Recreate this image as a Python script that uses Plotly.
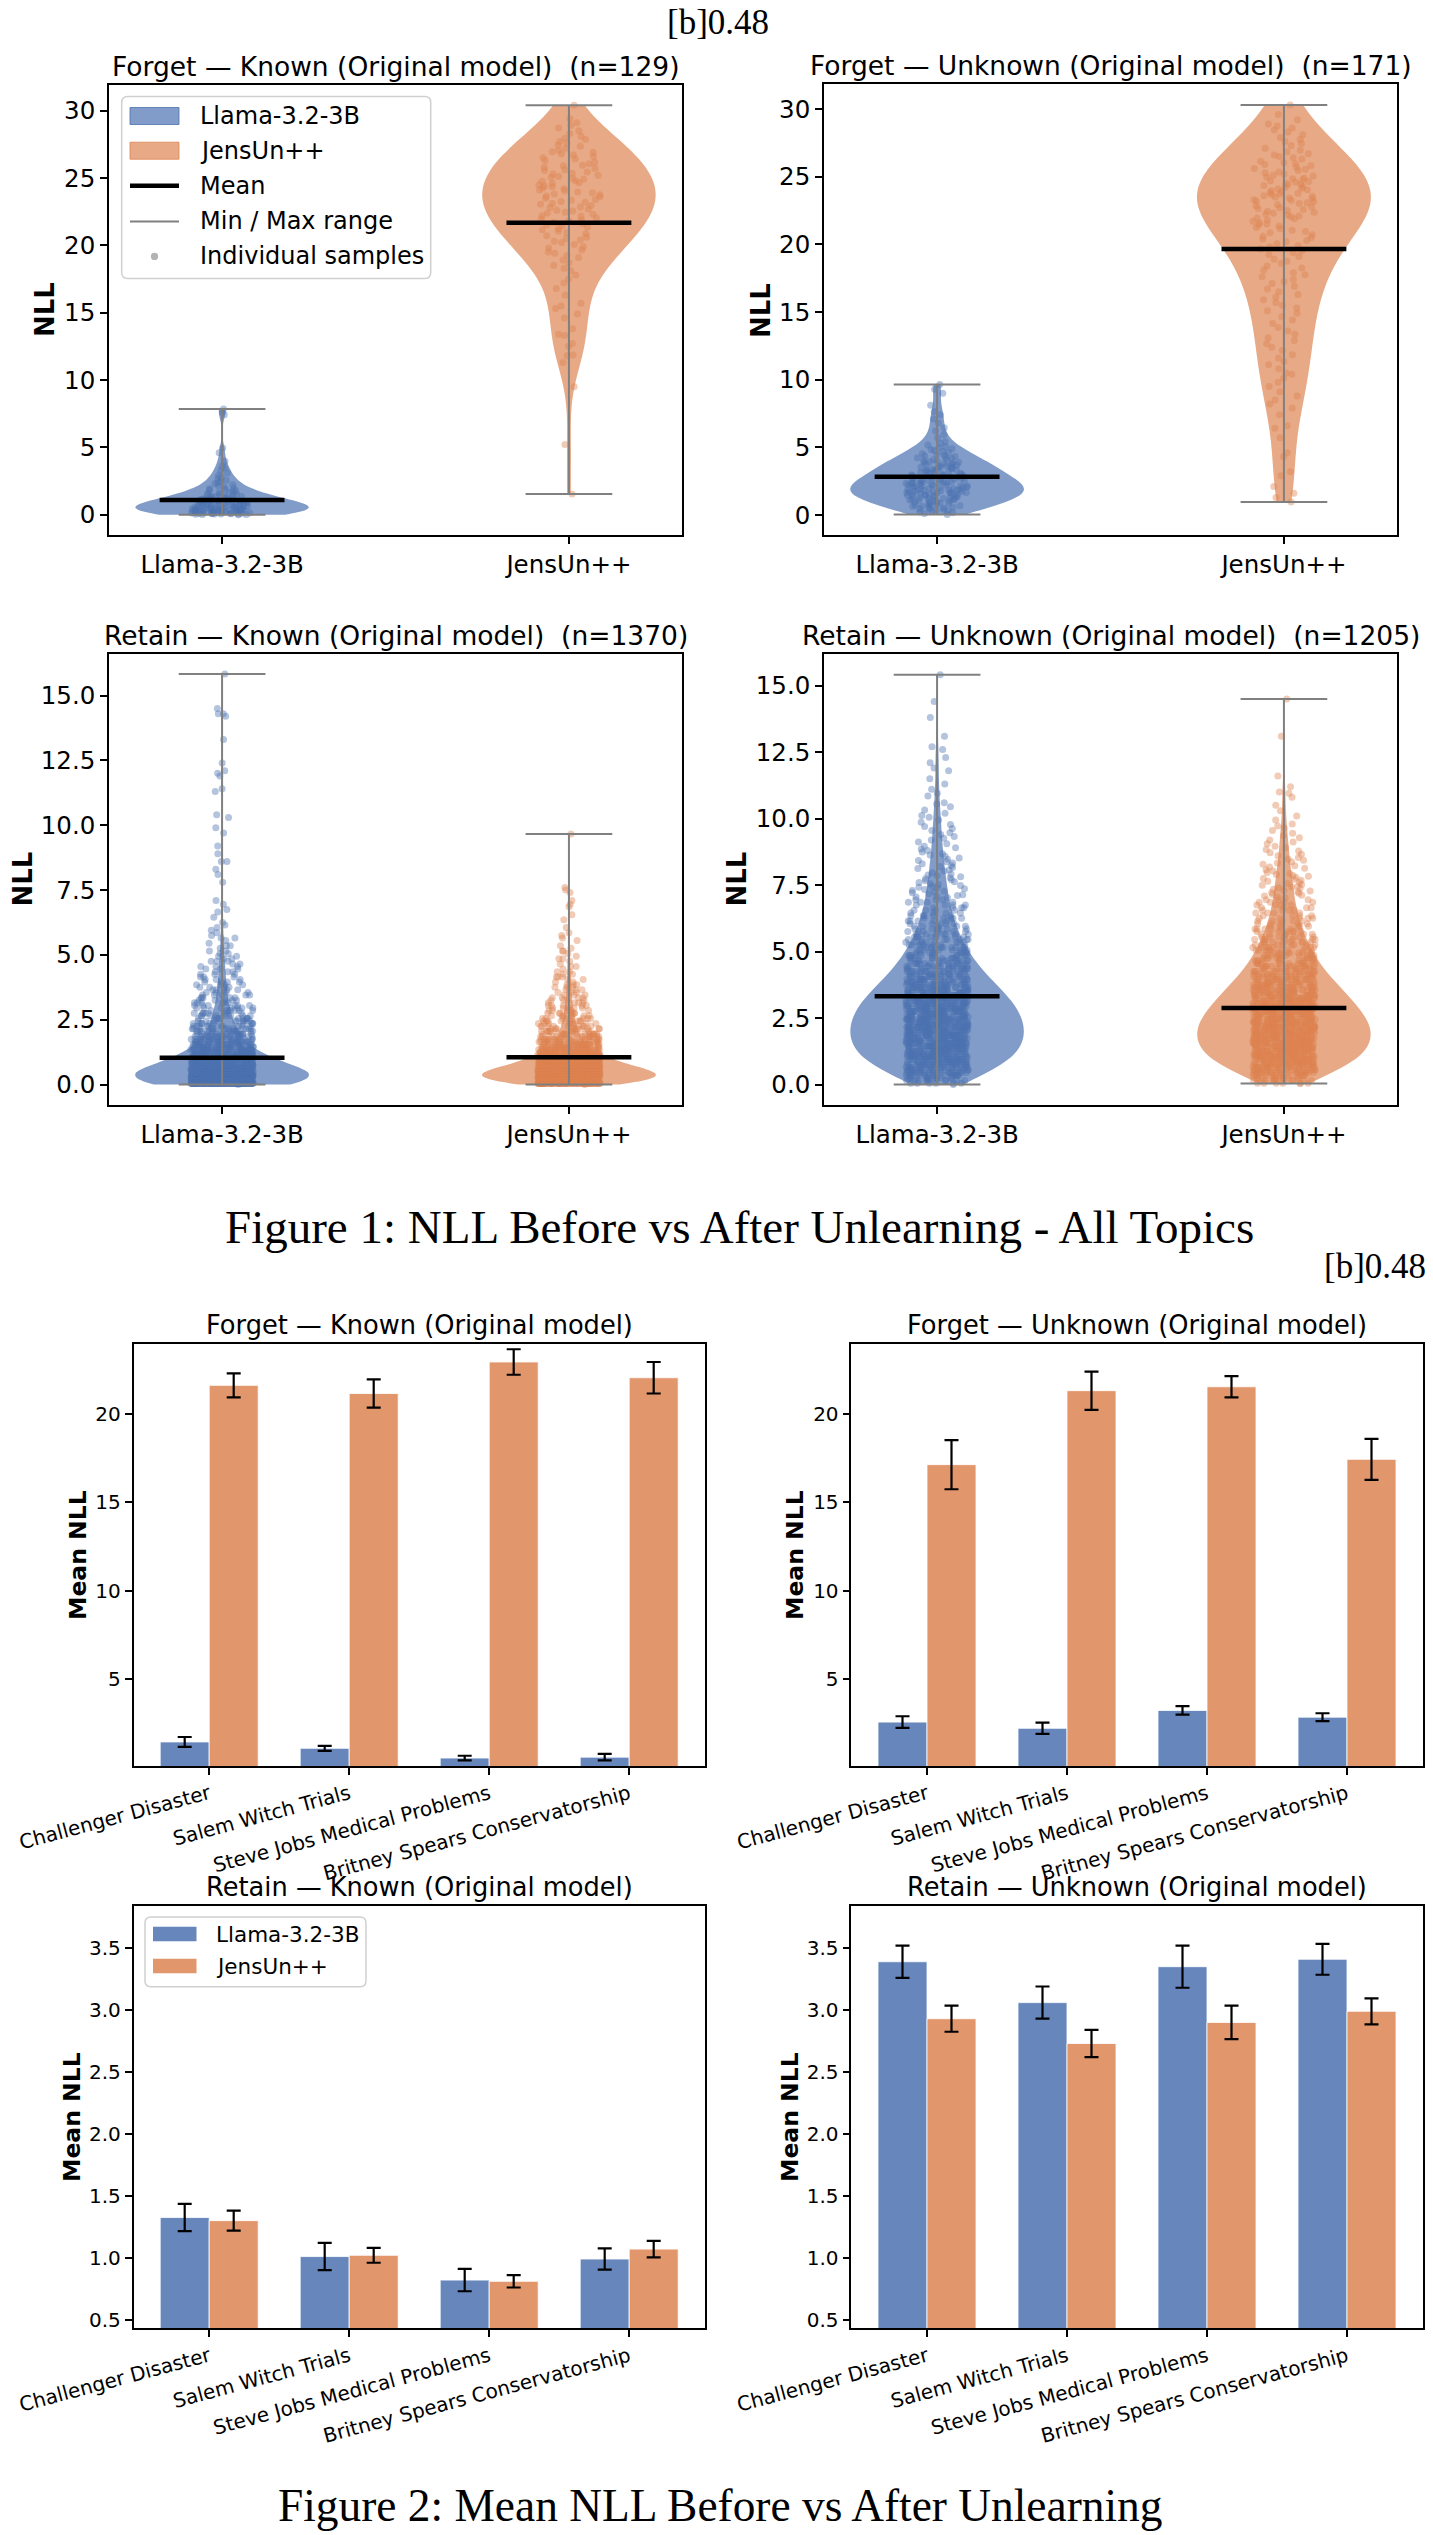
import numpy as np
import plotly.graph_objects as go

W, H = 1433, 2535

MODELS = ["Llama-3.2-3B", "JensUn++"]
VIOLIN_POS = [1, 2]
TOPICS = ["Challenger Disaster", "Salem Witch Trials",
          "Steve Jobs Medical Problems", "Britney Spears Conservatorship"]

VIOLIN_TITLES = ["Forget \u2014 Known (Original model) \u00a0(n=129)",
                 "Forget \u2014 Unknown (Original model) \u00a0(n=171)",
                 "Retain \u2014 Known (Original model) \u00a0(n=1370)",
                 "Retain \u2014 Unknown (Original model) \u00a0(n=1205)"]
BAR_TITLES = ["Forget \u2014 Known (Original model)",
              "Forget \u2014 Unknown (Original model)",
              "Retain \u2014 Known (Original model)",
              "Retain \u2014 Unknown (Original model)"]
VIOLIN_LEGEND = ["Llama-3.2-3B", "JensUn++", "Mean", "Min / Max range", "Individual samples"]

# ---------------- violin samples ----------------
fk_llama = [0.0, 0.01, 0.02, 0.03, 0.04, 0.05, 0.05, 0.06, 0.07, 0.08, 0.09, 0.1, 0.11,
            0.12, 0.12, 0.13, 0.14, 0.15, 0.16, 0.17, 0.18, 0.19, 0.2, 0.22, 0.23, 0.24,
            0.26, 0.27, 0.28, 0.29, 0.3, 0.31, 0.32, 0.33, 0.34, 0.35, 0.36, 0.37, 0.38,
            0.39, 0.4, 0.41, 0.42, 0.44, 0.45, 0.46, 0.48, 0.49,
            0.5, 0.52, 0.53, 0.55, 0.56, 0.58, 0.59, 0.6, 0.62, 0.63, 0.65, 0.66, 0.68,
            0.7, 0.71, 0.73, 0.74,
            0.76, 0.78, 0.8, 0.81, 0.83, 0.85, 0.87, 0.88, 0.9, 0.92, 0.93, 0.95, 0.97, 0.99,
            1.01, 1.03, 1.06, 1.08, 1.1, 1.12, 1.15, 1.17, 1.19, 1.22, 1.24,
            1.26, 1.29, 1.32, 1.35, 1.37, 1.4, 1.43, 1.46, 1.49,
            1.52, 1.58, 1.63, 1.67, 1.72, 1.78, 1.83, 1.88, 1.93, 1.98,
            2.05, 2.13, 2.22, 2.3, 2.38, 2.46, 2.56, 2.68, 2.8, 2.93,
            3.1, 3.3, 3.48, 3.62, 3.97, 4.6, 4.95, 7.42, 7.6, 7.84]
fk_jens = [30.4, 29.4, 29.1, 28.1, 28.3, 28.5, 28.7, 28.9,
           27.05, 27.2, 27.35, 27.45, 27.6, 27.7, 27.85, 27.95,
           26.05, 26.15, 26.3, 26.4, 26.5, 26.6, 26.7, 26.8, 26.9, 26.95,
           25.05, 25.1, 25.2, 25.3, 25.35, 25.45, 25.55, 25.6, 25.7, 25.8, 25.9, 25.95,
           24.05, 24.1, 24.2, 24.25, 24.35, 24.4, 24.5, 24.6, 24.65, 24.75, 24.8, 24.9, 24.95,
           23.05, 23.1, 23.2, 23.25, 23.35, 23.4, 23.5, 23.6, 23.65, 23.75, 23.8, 23.9, 23.95,
           22.05, 22.15, 22.2, 22.3, 22.4, 22.45, 22.55, 22.6, 22.7, 22.8, 22.85, 22.95,
           21.05, 21.15, 21.25, 21.35, 21.45, 21.5, 21.6, 21.7, 21.8, 21.9, 21.95,
           20.05, 20.2, 20.3, 20.4, 20.5, 20.6, 20.7, 20.85, 20.95,
           19.1, 19.25, 19.4, 19.5, 19.65, 19.8, 19.9,
           18.1, 18.3, 18.5, 18.7, 18.9, 17.2, 17.5, 17.8, 16.3, 16.8,
           15.3, 15.5, 15.7, 14.6, 14.9, 13.3, 13.4, 13.8, 12.5, 12.7,
           11.3, 11.8, 11.85, 9.5, 5.2, 1.53]
fu_llama = [0.03, 0.1, 0.16, 0.22, 0.27, 0.31, 0.36, 0.4, 0.44, 0.48,
            0.52, 0.55, 0.58, 0.62, 0.65, 0.68, 0.71, 0.74, 0.78, 0.81, 0.84, 0.87, 0.91, 0.94, 0.98,
            1.01, 1.03, 1.06, 1.08, 1.11, 1.13, 1.16, 1.18, 1.21, 1.23, 1.26, 1.28, 1.31, 1.33,
            1.36, 1.38, 1.41, 1.44, 1.46, 1.49,
            1.51, 1.53, 1.55, 1.57, 1.59, 1.61, 1.63, 1.65, 1.67, 1.69, 1.71, 1.73, 1.75, 1.77,
            1.79, 1.81, 1.83, 1.85, 1.87, 1.89, 1.91, 1.93, 1.95, 1.98,
            2.01, 2.03, 2.06, 2.08, 2.1, 2.12, 2.15, 2.17, 2.19, 2.21, 2.24, 2.26, 2.28, 2.3,
            2.33, 2.35, 2.37, 2.39, 2.42, 2.44, 2.46, 2.49,
            2.52, 2.55, 2.57, 2.6, 2.63, 2.66, 2.68, 2.71, 2.74, 2.77, 2.79, 2.82, 2.85, 2.88,
            2.9, 2.93, 2.96, 2.99,
            3.02, 3.05, 3.09, 3.12, 3.15, 3.19, 3.22, 3.25, 3.29, 3.32, 3.35, 3.39, 3.42, 3.45, 3.48,
            3.52, 3.55, 3.59, 3.62, 3.66, 3.69, 3.73, 3.76, 3.8, 3.83, 3.87, 3.9, 3.94, 3.97,
            4.03, 4.08, 4.13, 4.18, 4.22, 4.27, 4.32, 4.37, 4.42, 4.47,
            4.55, 4.62, 4.7, 4.76, 4.83, 4.9, 4.97, 5.05, 5.18, 5.3, 5.42,
            5.7, 5.95, 6.2, 6.45, 6.8, 7.1, 7.4, 7.65, 8.1, 9.0, 9.3, 9.64]
fu_jens = [30.3, 29.6, 29.2, 28.1, 28.3, 28.45, 28.6, 28.75, 28.9,
           27.1, 27.3, 27.45, 27.6, 27.75, 27.9,
           26.05, 26.15, 26.3, 26.4, 26.5, 26.6, 26.7, 26.85, 26.95,
           25.05, 25.1, 25.2, 25.3, 25.35, 25.45, 25.55, 25.6, 25.7, 25.8, 25.9, 25.95,
           24.03, 24.1, 24.15, 24.2, 24.28, 24.35, 24.4, 24.45, 24.52, 24.6, 24.65, 24.7,
           24.78, 24.85, 24.9, 24.96,
           23.02, 23.08, 23.14, 23.2, 23.25, 23.3, 23.37, 23.43, 23.5, 23.55, 23.6, 23.66,
           23.72, 23.78, 23.84, 23.9, 23.96,
           22.04, 22.1, 22.17, 22.24, 22.3, 22.37, 22.44, 22.5, 22.57, 22.64, 22.7, 22.78,
           22.85, 22.93,
           21.05, 21.15, 21.25, 21.35, 21.45, 21.5, 21.6, 21.7, 21.8, 21.9, 21.95,
           20.05, 20.2, 20.3, 20.4, 20.5, 20.6, 20.7, 20.85, 20.95,
           19.1, 19.25, 19.4, 19.5, 19.65, 19.8, 19.9,
           18.1, 18.25, 18.4, 18.6, 18.75, 18.9, 17.1, 17.25, 17.4, 17.6, 17.75, 17.9,
           16.1, 16.3, 16.5, 16.7, 16.9, 15.1, 15.3, 15.5, 15.7, 15.9,
           14.15, 14.4, 14.65, 14.9, 13.1, 13.35, 13.6, 13.85, 12.15, 12.4, 12.65, 12.9,
           11.1, 11.35, 11.6, 11.85, 10.1, 10.4, 10.5, 10.8, 9.1, 9.5, 9.8, 8.2, 8.5, 8.8,
           7.4, 7.9, 6.4, 6.6, 5.7, 4.3, 4.6, 3.2, 2.1, 2.9, 1.3, 1.6, 0.96]

# Retain sets: dense body as value / count pairs, tails as single values
BIN_CENTERS = [0.05, 0.15, 0.25, 0.35, 0.45, 0.55, 0.65, 0.75, 0.85, 0.95,
               1.05, 1.15, 1.25, 1.35, 1.45, 1.55, 1.65, 1.75, 1.85, 1.95,
               2.05, 2.15, 2.25, 2.35, 2.45, 2.55, 2.65, 2.75, 2.85, 2.95,
               3.05, 3.15, 3.25, 3.35, 3.45, 3.55, 3.65, 3.75, 3.85, 3.95,
               4.05, 4.15, 4.25, 4.35, 4.45, 4.55, 4.65, 4.75, 4.85, 4.95,
               5.05, 5.15, 5.25, 5.35, 5.45, 5.55, 5.65, 5.75, 5.85, 5.95,
               6.05, 6.15, 6.25, 6.35, 6.45, 6.55, 6.65, 6.75, 6.85, 6.95]
rk_llama_counts = [167, 155, 130, 109, 85, 72, 62, 54, 47, 41,
                   36, 32, 29, 26, 23, 22, 19, 18, 16, 14,
                   13, 12, 11, 10, 9, 9, 8, 7, 7, 7,
                   6, 6, 5, 5, 5, 4, 4, 4, 4, 4,
                   3, 3, 3, 3, 3, 3, 2, 3, 2, 2,
                   2, 2, 1, 2, 1, 1, 2, 1, 1, 1,
                   1, 1, 1, 0, 1, 0, 1, 1, 0, 1]
rk_llama_tail = [0.0, 7.1, 7.8, 8.1, 8.3, 8.6, 8.6, 8.9, 9.2, 9.7, 9.9, 10.3, 10.4, 11.3,
                 11.4, 11.9, 12.0, 12.1, 12.4, 13.3, 14.2, 14.3, 14.3, 14.5, 15.83]
rk_jens_counts = [108, 130, 135, 130, 115, 100, 85, 72, 60, 50,
                  42, 36, 31, 27, 23, 20, 18, 16, 14, 12,
                  11, 10, 9, 8, 8, 7, 6, 6, 5, 5,
                  5, 4, 4, 4, 3, 3, 3, 3, 3, 2,
                  2, 3, 2, 2, 1, 2, 1, 1, 2, 1,
                  1, 2, 1, 1, 0, 1, 1, 1, 1, 0,
                  1, 0, 0, 1, 0, 1, 0, 0, 1, 1]
rk_jens_tail = [0.0, 7.1, 7.4, 7.5, 7.6, 9.66]
ru_llama_counts = [6, 10, 13, 16, 19, 19, 20, 21, 22, 24,
                   24, 25, 25, 26, 26, 26, 27, 27, 27, 26,
                   27, 27, 26, 26, 26, 26, 25, 25, 25, 24,
                   24, 23, 22, 21, 20, 20, 19, 18, 17, 15,
                   15, 14, 14, 13, 12, 12, 11, 10, 10, 9,
                   9, 9, 8, 8, 7, 7, 7, 6, 6, 5,
                   5, 5, 5, 5, 4, 4, 4, 4, 4, 3]
ru_llama_tail = [0.0, 7.02, 7.05, 7.08, 7.11, 7.14, 7.17, 7.21, 7.24, 7.27, 7.3, 7.33, 7.36,
                 7.4, 7.42, 7.45, 7.48, 7.52, 7.55, 7.6, 7.63, 7.66, 7.7, 7.74, 7.78, 7.81,
                 7.85, 7.88, 7.92, 7.96, 8.03, 8.07, 8.12, 8.16, 8.2, 8.24, 8.3, 8.33, 8.38,
                 8.42, 8.47, 8.52, 8.58, 8.63, 8.68, 8.74, 8.8, 8.86, 8.9, 8.96, 9.05, 9.12,
                 9.2, 9.26, 9.33, 9.4, 9.47, 9.55, 9.63, 9.7, 9.78, 9.86, 9.95, 10.05, 10.12,
                 10.2, 10.32, 10.45, 10.55, 10.6, 10.85, 10.95, 11.1, 11.3, 11.5, 11.8, 11.9,
                 12.1, 12.3, 12.6, 12.7, 13.1, 13.8, 14.4, 15.41]
ru_jens_counts = [6, 10, 12, 15, 19, 19, 21, 22, 23, 25,
                  25, 27, 27, 28, 28, 28, 29, 29, 29, 28,
                  29, 28, 28, 28, 27, 27, 26, 25, 24, 24,
                  23, 22, 21, 20, 20, 19, 18, 17, 16, 16,
                  15, 14, 13, 12, 12, 11, 10, 10, 10, 9,
                  9, 8, 8, 8, 7, 7, 6, 6, 6, 5,
                  5, 5, 5, 4, 4, 4, 4, 4, 4, 3]
ru_jens_tail = [0.04, 7.02, 7.05, 7.09, 7.12, 7.15, 7.19, 7.22, 7.25, 7.28, 7.31, 7.34, 7.37,
                7.4, 7.43, 7.46, 7.49, 7.52, 7.56, 7.6, 7.64, 7.68, 7.71, 7.75, 7.79, 7.83,
                7.86, 7.9, 7.94, 7.97, 8.03, 8.08, 8.13, 8.18, 8.23, 8.28, 8.33, 8.38, 8.43,
                8.48, 8.54, 8.6, 8.66, 8.72, 8.78, 8.84, 8.9, 8.96, 9.05, 9.12, 9.2, 9.28,
                9.36, 9.45, 9.55, 9.65, 9.72, 9.8, 9.95, 10.1, 10.3, 10.5, 10.8, 10.95,
                11.0, 11.2, 11.6, 13.1, 14.5]

# means (black lines)
violin_means = [[1.08, 21.68], [2.82, 19.66], [1.03, 1.05], [3.32, 2.88]]

# ---------------- bar data (mean NLL per topic, error = half bar) ----------------
fk_bar_llama = [1.46, 1.10, 0.55, 0.60]
fk_err_llama = [0.28, 0.14, 0.13, 0.18]
fk_bar_jens = [21.61, 21.15, 22.93, 22.04]
fk_err_jens = [0.68, 0.80, 0.72, 0.89]
fu_bar_llama = [2.58, 2.23, 3.24, 2.86]
fu_err_llama = [0.33, 0.32, 0.24, 0.22]
fu_bar_jens = [17.13, 21.31, 21.53, 17.43]
fu_err_jens = [1.39, 1.08, 0.60, 1.16]
rk_bar_llama = [1.325, 1.01, 0.82, 0.99]
rk_err_llama = [0.11, 0.11, 0.09, 0.086]
rk_bar_jens = [1.30, 1.02, 0.81, 1.07]
rk_err_jens = [0.08, 0.06, 0.05, 0.067]
ru_bar_llama = [3.39, 3.06, 3.35, 3.41]
ru_err_llama = [0.13, 0.13, 0.17, 0.125]
ru_bar_jens = [2.93, 2.73, 2.90, 2.99]
ru_err_jens = [0.105, 0.11, 0.135, 0.105]

# ---------------- styling ----------------
BLUE = (76, 114, 176)
ORANGE = (221, 132, 82)
COLS = [BLUE, ORANGE]
FONT = "DejaVu Sans"
SERIF = "Liberation Serif"


def rgba(c, a):
    return "rgba(%d,%d,%d,%s)" % (c[0], c[1], c[2], a)


# axes boxes in pixels: left, right, top, bottom
BOXES = [(109, 682, 85, 535), (824, 1397, 84, 535),
         (109, 682, 654, 1105), (824, 1397, 654, 1105),
         (133.6, 704.8, 1343.6, 1766), (851.4, 1422.6, 1343.6, 1766),
         (133.6, 704.8, 1906, 2328.4), (851.4, 1422.6, 1906, 2328.4)]


def px(x):
    return x / W


def py(y):
    return 1 - y / H


def xdom(b):
    return [px(b[0]), px(b[1])]


def ydom(b):
    return [py(b[3]), py(b[2])]


def expand(counts, tail):
    return np.concatenate([np.repeat(np.asarray(BIN_CENTERS, float), counts),
                           np.asarray(tail, float)])


violin_sets = [
    (np.asarray(fk_llama, float), np.asarray(fk_jens, float)),
    (np.asarray(fu_llama, float), np.asarray(fu_jens, float)),
    (expand(rk_llama_counts, rk_llama_tail), expand(rk_jens_counts, rk_jens_tail)),
    (expand(ru_llama_counts, ru_llama_tail), expand(ru_jens_counts, ru_jens_tail)),
]

fig = go.Figure()

# violin bodies + sample points
for i, pair in enumerate(violin_sets):
    ax = "" if i == 0 else str(i + 1)
    for j, s in enumerate(pair):
        bw = float(np.std(s, ddof=1) * len(s) ** (-0.2))
        fig.add_trace(go.Violin(
            x0=VIOLIN_POS[j], y=s, xaxis="x" + ax, yaxis="y" + ax,
            width=0.5, scalemode="width", spanmode="hard", bandwidth=bw,
            fillcolor=rgba(COLS[j], 0.7), line=dict(width=0, color=rgba(COLS[j], 0.7)),
            points="all", pointpos=0, jitter=0.36,
            marker=dict(size=7, color=rgba(COLS[j], 0.42), line=dict(width=0)),
            box_visible=False, meanline_visible=False,
            name=MODELS[j], showlegend=False, hoverinfo="skip"))

# min / max range lines
for i, pair in enumerate(violin_sets):
    ax = "" if i == 0 else str(i + 1)
    for j, s in enumerate(pair):
        p = VIOLIN_POS[j]
        mn, mx = float(np.min(s)), float(np.max(s))
        fig.add_trace(go.Scatter(
            x=[p - 0.125, p + 0.125, None, p, p, None, p - 0.125, p + 0.125],
            y=[mn, mn, None, mn, mx, None, mx, mx],
            mode="lines", line=dict(color="#808080", width=2),
            xaxis="x" + ax, yaxis="y" + ax, name="Min / Max range",
            showlegend=False, hoverinfo="skip"))

# mean lines
for i, means in enumerate(violin_means):
    ax = "" if i == 0 else str(i + 1)
    for j, m in enumerate(means):
        p = VIOLIN_POS[j]
        fig.add_trace(go.Scatter(
            x=[p - 0.18, p + 0.18], y=[m, m], mode="lines",
            line=dict(color="black", width=4.5),
            xaxis="x" + ax, yaxis="y" + ax, name="Mean",
            showlegend=False, hoverinfo="skip"))

# bars
bar_sets = [
    ((fk_bar_llama, fk_err_llama), (fk_bar_jens, fk_err_jens)),
    ((fu_bar_llama, fu_err_llama), (fu_bar_jens, fu_err_jens)),
    ((rk_bar_llama, rk_err_llama), (rk_bar_jens, rk_err_jens)),
    ((ru_bar_llama, ru_err_llama), (ru_bar_jens, ru_err_jens)),
]
for i, pair in enumerate(bar_sets):
    ax = str(i + 5)
    for j, (vals, errs) in enumerate(pair):
        fig.add_trace(go.Bar(
            x=TOPICS, y=vals, xaxis="x" + ax, yaxis="y" + ax,
            marker=dict(color=rgba(COLS[j], 0.85), line=dict(color="white", width=0.8)),
            error_y=dict(type="data", array=errs, color="black", thickness=2.2, width=7),
            name=MODELS[j], showlegend=False, hoverinfo="skip"))

# axes
axis_common = dict(showline=True, linecolor="black", linewidth=1.6, mirror=True,
                   ticks="outside", ticklen=7, tickwidth=1.6, tickcolor="black",
                   showgrid=False, zeroline=False, automargin=False)
layout = {}
v_ranges = [[-1.51, 31.9], [-1.48, 31.85], [-0.79, 16.6], [-0.77, 16.19]]
for i in range(4):
    k = "" if i == 0 else str(i + 1)
    b = BOXES[i]
    layout["xaxis" + k] = dict(axis_common, domain=xdom(b), anchor="y" + k, type="linear",
                               range=[0.674, 2.326], tickvals=VIOLIN_POS, ticktext=MODELS,
                               tickfont=dict(family=FONT, size=24.5, color="black"))
    yk = dict(axis_common, domain=ydom(b), anchor="x" + k, range=v_ranges[i],
              tickfont=dict(family=FONT, size=24.5, color="black"))
    if i < 2:
        yk.update(tick0=0, dtick=5)
    else:
        yk.update(tick0=0, dtick=2.5, tickformat=".1f")
    layout["yaxis" + k] = yk

b_ranges = [[0.1, 23.97], [0.1, 23.97], [0.43, 3.84], [0.43, 3.84]]
for i in range(4):
    k = str(i + 5)
    b = BOXES[i + 4]
    layout["xaxis" + k] = dict(axis_common, domain=xdom(b), anchor="y" + k, type="category",
                               range=[-0.54, 3.54], tickangle=-15,
                               tickfont=dict(family=FONT, size=20, color="black"))
    yk = dict(axis_common, domain=ydom(b), anchor="x" + k, range=b_ranges[i],
              tickfont=dict(family=FONT, size=20, color="black"))
    if i < 2:
        yk.update(tick0=0, dtick=5)
    else:
        yk.update(tick0=0, dtick=0.5, tickformat=".1f")
    layout["yaxis" + k] = yk


def ann(text, x, y, size, family=FONT, xanchor="center", yanchor="middle", angle=0):
    return dict(text=text, x=px(x), y=py(y), xref="paper", yref="paper",
                showarrow=False, xanchor=xanchor, yanchor=yanchor, textangle=angle,
                font=dict(family=family, size=size, color="black"))


annotations = []
shapes = []

for i in range(4):
    b = BOXES[i]
    annotations.append(ann(VIOLIN_TITLES[i], (b[0] + b[1]) / 2, b[2] - 1, 26.5,
                           yanchor="bottom"))
for i in range(4):
    b = BOXES[i + 4]
    annotations.append(ann(BAR_TITLES[i], (b[0] + b[1]) / 2, b[2] - 2, 25.7,
                           yanchor="bottom"))
for (x, y) in [(45, 310), (761, 310), (23, 879.5), (737, 879.5)]:
    annotations.append(ann("<b>NLL</b>", x, y, 26, angle=-90))
for (x, y) in [(78, 1555), (795, 1555), (72, 2117), (790, 2117)]:
    annotations.append(ann("<b>Mean NLL</b>", x, y, 23.5, angle=-90))

annotations.append(ann("[b]0.48", 718, 1, 35, family=SERIF, yanchor="top"))
annotations.append(ann("[b]0.48", 1428, 1288, 35, family=SERIF, xanchor="right",
                       yanchor="bottom"))
annotations.append(ann("Figure 1: NLL Before vs After Unlearning - All Topics", 739, 1255.3,
                       47, family=SERIF, yanchor="bottom"))
annotations.append(ann("Figure 2: Mean NLL Before vs After Unlearning", 719.6, 2533,
                       45.4, family=SERIF, yanchor="bottom"))


def rounded_box(x0, y0, x1, y1, r=6):
    rx, ry = r / W, r / H
    X0, X1, Y0, Y1 = px(x0), px(x1), py(y0), py(y1)
    path = ("M %f,%f L %f,%f Q %f,%f %f,%f L %f,%f Q %f,%f %f,%f L %f,%f Q %f,%f %f,%f "
            "L %f,%f Q %f,%f %f,%f Z") % (
        X0 + rx, Y0, X1 - rx, Y0, X1, Y0, X1, Y0 - ry,
        X1, Y1 + ry, X1, Y1, X1 - rx, Y1,
        X0 + rx, Y1, X0, Y1, X0, Y1 + ry,
        X0, Y0 - ry, X0, Y0, X0 + rx, Y0)
    return dict(type="path", path=path, xref="paper", yref="paper", layer="above",
                fillcolor="rgba(255,255,255,0.8)", line=dict(color="#d0d0d0", width=1.5))


# legend of the violin panels (drawn in the first panel)
shapes.append(rounded_box(121.7, 96.4, 430.7, 278.6))
leg_y = [116, 150.7, 185.7, 221.4, 256.4]
sx0, sx1 = 130, 179
for j in range(2):
    shapes.append(dict(type="rect", xref="paper", yref="paper", layer="above",
                       x0=px(sx0), x1=px(sx1), y0=py(leg_y[j] + 8.5), y1=py(leg_y[j] - 8.5),
                       fillcolor=rgba(COLS[j], 0.7), line=dict(color=rgba(COLS[j], 0.8), width=1)))
shapes.append(dict(type="line", xref="paper", yref="paper", layer="above",
                   x0=px(sx0), x1=px(sx1), y0=py(leg_y[2]), y1=py(leg_y[2]),
                   line=dict(color="black", width=4.5)))
shapes.append(dict(type="line", xref="paper", yref="paper", layer="above",
                   x0=px(sx0), x1=px(sx1), y0=py(leg_y[3]), y1=py(leg_y[3]),
                   line=dict(color="#808080", width=2)))
cx = (sx0 + sx1) / 2
shapes.append(dict(type="circle", xref="paper", yref="paper", layer="above",
                   x0=px(cx - 3.6), x1=px(cx + 3.6), y0=py(leg_y[4] + 3.6), y1=py(leg_y[4] - 3.6),
                   fillcolor="rgba(128,128,128,0.6)", line=dict(width=0)))
for j, t in enumerate(VIOLIN_LEGEND):
    annotations.append(ann(t, 198, leg_y[j], 24, xanchor="left"))

# legend of the bar panels (drawn in the third bar panel)
shapes.append(rounded_box(145, 1917, 366, 1986.7))
bleg_y = [1934, 1966]
for j in range(2):
    shapes.append(dict(type="rect", xref="paper", yref="paper", layer="above",
                       x0=px(153), x1=px(196.5), y0=py(bleg_y[j] + 7.3), y1=py(bleg_y[j] - 7.3),
                       fillcolor=rgba(COLS[j], 0.85), line=dict(width=0)))
    annotations.append(ann(MODELS[j], 214.4, bleg_y[j], 21.5, xanchor="left"))

fig.update_layout(
    template="none",
    width=W, height=H, autosize=False,
    margin=dict(l=0, r=0, t=0, b=0, pad=0, autoexpand=False),
    paper_bgcolor="white", plot_bgcolor="white",
    font=dict(family=FONT, color="black"),
    violinmode="overlay", barmode="group", bargap=0.3, bargroupgap=0,
    showlegend=False,
    annotations=annotations, shapes=shapes,
    **layout)

fig.write_html("out.html", config={"displayModeBar": False})
